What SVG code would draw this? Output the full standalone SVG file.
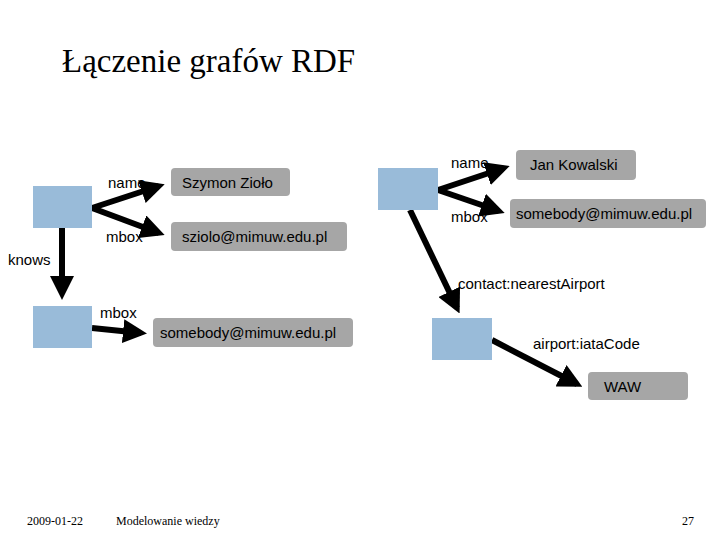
<svg xmlns="http://www.w3.org/2000/svg" width="720" height="540" viewBox="0 0 720 540">
<style>
.n{fill:#99bbd9}
.l{fill:#a6a6a6}
.t{font-family:"Liberation Sans",Arial,sans-serif;font-size:15px;fill:#000}
.e{stroke:#000;stroke-width:6;fill:none;marker-end:url(#a)}
.f{font-family:"Liberation Serif",serif;font-size:12px}
</style>
<defs><marker id="a" markerWidth="4" markerHeight="4" refX="3" refY="2" orient="auto"><path d="M0,0L4,2L0,4z" fill="#000"/></marker></defs>
<rect width="720" height="540" fill="#fff"/>
<text x="62" y="72" font-family="Liberation Serif,serif" font-size="33">Łączenie grafów RDF</text>
<g id="edges">
<line class="e" x1="92" y1="208" x2="159" y2="186"/>
<line class="e" x1="92" y1="208" x2="159" y2="233"/>
<line class="e" x1="62" y1="228" x2="62" y2="294"/>
<line class="e" x1="92" y1="328" x2="141" y2="333"/>
<line class="e" x1="438" y1="190" x2="504" y2="168"/>
<line class="e" x1="438" y1="190" x2="499" y2="211"/>
<line class="e" x1="410" y1="210" x2="457" y2="308"/>
<line class="e" x1="492" y1="340" x2="577" y2="384"/>
<text class="t" x="108" y="188">name</text>
<text class="t" x="106" y="242">mbox</text>
<text class="t" x="8" y="265">knows</text>
<text class="t" x="100" y="318">mbox</text>
<text class="t" x="451" y="168">name</text>
<text class="t" x="451" y="222">mbox</text>
<text class="t" x="458" y="289">contact:nearestAirport</text>
<text class="t" x="533" y="349">airport:iataCode</text>
</g>
<g id="n1"><rect class="n" x="33" y="186" width="59" height="42"/></g>
<g id="n2"><rect class="n" x="33" y="306" width="59" height="42"/></g>
<g id="l1"><rect class="l" x="171" y="168" width="119" height="28" rx="4"/><text class="t" x="182" y="188">Szymon Zioło</text></g>
<g id="l2"><rect class="l" x="171" y="222" width="176" height="29" rx="4"/><text class="t" x="182" y="242">sziolo@mimuw.edu.pl</text></g>
<g id="l3"><rect class="l" x="153" y="318" width="200" height="29" rx="4"/><text class="t" x="160" y="338">somebody@mimuw.edu.pl</text></g>
<g id="n3"><rect class="n" x="378" y="168" width="60" height="42"/></g>
<g id="n4"><rect class="n" x="432" y="318" width="60" height="42"/></g>
<g id="l4"><rect class="l" x="516" y="150" width="120" height="30" rx="4"/><text class="t" x="530" y="170">Jan Kowalski</text></g>
<g id="l5"><rect class="l" x="510" y="199" width="196" height="29" rx="4"/><text class="t" x="516" y="219">somebody@mimuw.edu.pl</text></g>
<g id="l6"><rect class="l" x="588" y="372" width="100" height="28" rx="4"/><text class="t" x="604" y="392">WAW</text></g>
<text class="f" x="27" y="525">2009-01-22</text>
<text class="f" x="116" y="525">Modelowanie wiedzy</text>
<text class="f" x="682" y="525">27</text>
</svg>
